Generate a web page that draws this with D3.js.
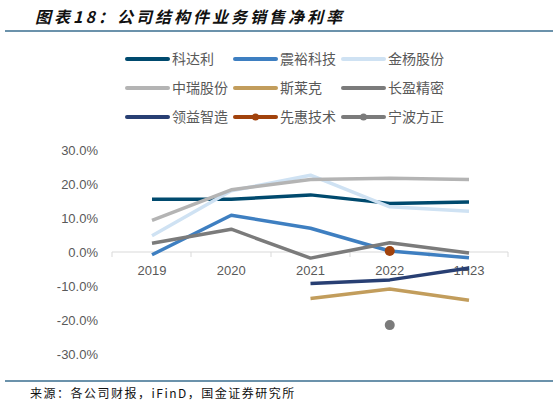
<!DOCTYPE html><html><head><meta charset="utf-8"><script src="https://cdn.jsdelivr.net/npm/d3@7"></script>
<style>body{margin:0;background:#fff}</style></head><body><svg id="c" width="559" height="406"></svg><script>
const categories=["2019","2020","2021","2022","1H23"];
const yTicks=[30,20,10,0,-10,-20,-30];
const kedali=[15.5,15.5,16.8,14.3,14.7];
const zhenyu=[-0.8,10.8,7.0,0.3,-1.7];
const jinyang=[4.8,18.0,22.6,13.3,12.0];
const zhongrui=[9.3,18.3,21.3,21.7,21.3];
const silaike=[null,null,-13.7,-10.9,-14.2];
const changying=[2.6,6.7,-1.8,2.7,-0.3];
const lingyi=[null,null,-9.3,-8.2,-4.7];
const xianhui=[null,null,null,0.3,null];
const fangzheng=[null,null,null,-21.5,null];
const series=[
 {name:"科达利",v:kedali,c:"#004a6e"},{name:"震裕科技",v:zhenyu,c:"#3e7fc1"},{name:"金杨股份",v:jinyang,c:"#cfe2f3"},
 {name:"中瑞股份",v:zhongrui,c:"#b4b4b4"},{name:"斯莱克",v:silaike,c:"#c29d5c"},{name:"长盈精密",v:changying,c:"#7b7b7b"},
 {name:"领益智造",v:lingyi,c:"#283f73"},{name:"先惠技术",v:xianhui,c:"#a1420c",dot:true},{name:"宁波方正",v:fangzheng,c:"#7b7b7b",dot:true}];
const svg=d3.select("#c");
const font="'Noto Sans CJK SC',sans-serif";
svg.append("text").attr("x",35).attr("y",23).text("图表18：公司结构件业务销售净利率").attr("font-family",font).attr("font-size",16).attr("font-weight","bold").attr("font-style","italic").attr("letter-spacing",3).attr("fill","#111");
svg.append("line").attr("x1",5).attr("x2",553).attr("y1",31).attr("y2",31).attr("stroke","#3a6e8f").attr("stroke-width",1.5);
svg.append("line").attr("x1",5).attr("x2",553).attr("y1",381).attr("y2",381).attr("stroke","#3a6e8f").attr("stroke-width",1.5);
svg.append("text").attr("x",30).attr("y",398).text("来源：各公司财报，iFinD，国金证券研究所").attr("font-family",font).attr("font-size",12).attr("letter-spacing",1.5).attr("fill","#111");
const x=d3.scalePoint().domain(categories).range([152,469]);
const y=d3.scaleLinear().domain([-30,30]).range([354,150]);
yTicks.forEach(t=>svg.append("text").attr("x",98).attr("y",y(t)+5).attr("text-anchor","end").text(t.toFixed(1)+"%").attr("font-family","Arial,'Liberation Sans',sans-serif").attr("font-size",13).attr("fill","#595959"));
svg.append("line").attr("x1",112).attr("x2",508).attr("y1",y(0)).attr("y2",y(0)).attr("stroke","#d9d9d9").attr("stroke-width",1);
[112,191,271,350,429,508].forEach(t=>svg.append("line").attr("x1",t).attr("x2",t).attr("y1",y(0)).attr("y2",y(0)+5).attr("stroke","#d9d9d9"));
categories.forEach(c=>svg.append("text").attr("x",x(c)).attr("y",y(0)+23).attr("text-anchor","middle").text(c).attr("font-family","Arial,'Liberation Sans',sans-serif").attr("font-size",13).attr("fill","#595959"));
const line=d3.line().defined(d=>d!=null).x((d,i)=>x(categories[i])).y(d=>y(d));
series.forEach(s=>{
 if(s.dot){s.v.forEach((d,i)=>{if(d!=null)svg.append("circle").attr("cx",x(categories[i])).attr("cy",y(d)).attr("r",5).attr("fill",s.c);});}
 else svg.append("path").attr("d",line(s.v)).attr("fill","none").attr("stroke",s.c).attr("stroke-width",3.5).attr("stroke-linejoin","round");
});
const lx=[127,235,343], ly=[59,88,117];
series.forEach((s,i)=>{const cx=lx[i%3],cy=ly[Math.floor(i/3)];
 svg.append("line").attr("x1",cx).attr("x2",cx+41).attr("y1",cy).attr("y2",cy).attr("stroke",s.c).attr("stroke-width",4).attr("stroke-linecap","round");
 if(s.dot)svg.append("circle").attr("cx",cx+20.5).attr("cy",cy).attr("r",3.5).attr("fill",s.c);
 svg.append("text").attr("x",cx+45).attr("y",cy+5).text(s.name).attr("font-family",font).attr("font-size",14).attr("fill","#595959");});
</script></body></html>
